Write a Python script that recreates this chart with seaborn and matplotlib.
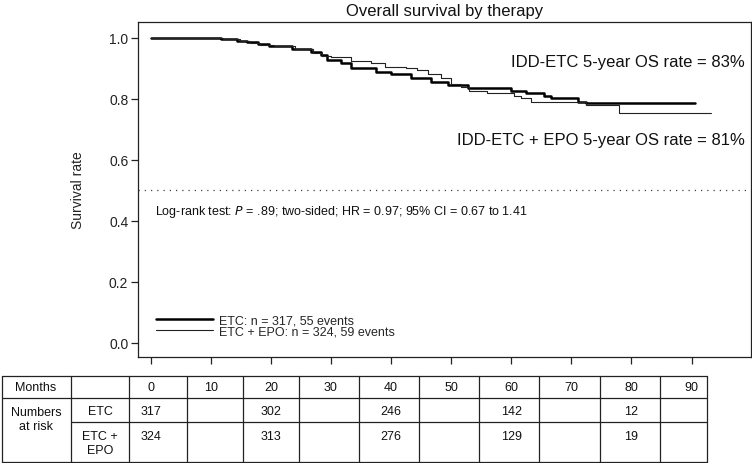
import matplotlib
matplotlib.use("Agg")
import matplotlib.pyplot as plt
import matplotlib.transforms as mtransforms
from matplotlib.lines import Line2D
import pandas as pd
import seaborn as sns

# Kaplan-Meier steps (months, survival rate)
etc_time = [0, 7.5, 11.7, 14.4, 16.0, 17.8, 19.7, 23.6, 26.7, 28.3, 29.4, 31.7,
            33.3, 37.5, 40.0, 43.3, 46.7, 49.4, 52.8, 60.0, 62.5, 65.5, 66.7,
            71.1, 72.5, 90.5]
etc_surv = [1.0, 0.999, 0.995, 0.989, 0.984, 0.978, 0.973, 0.964, 0.953, 0.942,
            0.926, 0.915, 0.901, 0.888, 0.880, 0.866, 0.855, 0.844, 0.836, 0.825,
            0.817, 0.809, 0.801, 0.790, 0.787, 0.787]

epo_time = [0, 8.0, 12.0, 14.8, 16.5, 18.2, 20.5, 24.0, 27.0, 28.5, 30.0, 33.3,
            36.7, 39.0, 42.5, 44.4, 46.1, 48.3, 50.0, 51.7, 53.0, 56.0, 60.5,
            61.7, 63.3, 72.5, 78.0, 93.3]
epo_surv = [1.0, 0.998, 0.994, 0.988, 0.982, 0.977, 0.971, 0.962, 0.951, 0.941,
            0.935, 0.924, 0.915, 0.905, 0.899, 0.893, 0.880, 0.866, 0.847, 0.839,
            0.825, 0.817, 0.809, 0.801, 0.790, 0.779, 0.752, 0.752]

month_ticks = [0, 10, 20, 30, 40, 50, 60, 70, 80, 90]
y_ticks = [0.0, 0.2, 0.4, 0.6, 0.8, 1.0]
risk_months = [0, 20, 40, 60, 80]
etc_at_risk = [317, 302, 246, 142, 12]
epo_at_risk = [324, 313, 276, 129, 19]

etc_label = "ETC: n = 317, 55 events"
epo_label = "ETC + EPO: n = 324, 59 events"

sns.set_style("ticks")
plt.rcParams["font.family"] = ["Liberation Sans", "DejaVu Sans"]
plt.rcParams["axes.edgecolor"] = "#222222"
plt.rcParams["axes.linewidth"] = 0.9

W, H = 752, 464
fig = plt.figure(figsize=(W / 100, H / 100), dpi=100)


def px(x0, y0, x1, y1):
    return [x0 / W, 1 - y1 / H, (x1 - x0) / W, (y1 - y0) / H]


ax = fig.add_axes(px(138, 23, 751, 358))

etc_df = pd.DataFrame({"month": etc_time, "surv": etc_surv})
epo_df = pd.DataFrame({"month": epo_time, "surv": epo_surv})
sns.lineplot(data=etc_df, x="month", y="surv", ax=ax, color="black", linewidth=1.8,
             drawstyle="steps-post", estimator=None, sort=False, label=etc_label)
sns.lineplot(data=epo_df, x="month", y="surv", ax=ax, color="#222222", linewidth=0.8,
             drawstyle="steps-post", estimator=None, sort=False, label=epo_label)

ax.axhline(0.5, color="#444444", linestyle=(0, (1, 4)), linewidth=0.9)

ax.set_xlim(-2.1, 99.9)
ax.set_ylim(-0.047, 1.051)
ax.set_xticks(month_ticks)
ax.set_xticklabels([])
ax.set_yticks(y_ticks)
ax.set_yticklabels([f"{v:.1f}" for v in y_ticks], fontsize=10, color="#222222")
ax.tick_params(axis="both", direction="out", length=5, width=0.9, color="#222222", pad=2)
ax.set_xlabel("")
ax.set_ylabel("Survival rate", fontsize=10, color="#222222", labelpad=17)
for s in ax.spines.values():
    s.set_visible(True)

ax.set_title("Overall survival by therapy", fontsize=12, pad=5, color="#111111")

ax.text(98.9, 0.92, "IDD-ETC 5-year OS rate = 83%", ha="right", va="center",
        fontsize=12, color="#111111")
ax.text(98.9, 0.667, "IDD-ETC + EPO 5-year OS rate = 81%", ha="right", va="center",
        fontsize=12, color="#111111")
ax.text(0.7, 0.431,
        "Log-rank test: $\\it{P}$ = .89; two-sided; HR = 0.97; 95% CI = 0.67 to 1.41",
        ha="left", va="center", fontsize=9, color="#111111")

ax.legend(loc="lower left", bbox_to_anchor=(0.022, 0.043), frameon=False, fontsize=9,
          handlelength=4.5, handletextpad=0.5, labelspacing=-0.1, borderaxespad=0)

# Numbers-at-risk table below the axis
tcolor = "#222222"
row_y = [377, 399, 423, 463]
col_x = [2, 71, 129, 187, 243, 299, 359, 419, 479, 539, 600, 660, 707]
for y in [row_y[0], row_y[1], row_y[3]]:
    fig.add_artist(Line2D([col_x[0] / W, col_x[-1] / W], [1 - y / H, 1 - y / H],
                          color=tcolor, linewidth=0.9))
fig.add_artist(Line2D([col_x[1] / W, col_x[-1] / W], [1 - row_y[2] / H, 1 - row_y[2] / H],
                      color=tcolor, linewidth=0.9))
for x in col_x:
    fig.add_artist(Line2D([x / W, x / W], [1 - row_y[0] / H, 1 - row_y[3] / H],
                          color=tcolor, linewidth=0.9))

tfont = dict(fontsize=9, color="#111111", family=["Liberation Sans Narrow", "Liberation Sans"])
fig.text(36 / W, 1 - 388 / H, "Months", ha="center", va="center", **tfont)
fig.text(36 / W, 1 - 420 / H, "Numbers\nat risk", ha="center", va="center",
         linespacing=1.15, **tfont)
fig.text(100 / W, 1 - 412 / H, "ETC", ha="center", va="center", **tfont)
fig.text(100 / W, 1 - 444 / H, "ETC +\nEPO", ha="center", va="center",
         linespacing=1.15, **tfont)

blend = mtransforms.blended_transform_factory(ax.transData, fig.transFigure)
for m in month_ticks:
    ax.text(m, 1 - 388 / H, str(m), transform=blend, ha="center", va="center",
            clip_on=False, **tfont)
for m, a, b in zip(risk_months, etc_at_risk, epo_at_risk):
    ax.text(m, 1 - 412 / H, str(a), transform=blend, ha="center", va="center",
            clip_on=False, **tfont)
    ax.text(m, 1 - 437 / H, str(b), transform=blend, ha="center", va="center",
            clip_on=False, **tfont)

fig.savefig("out.png", dpi=100)
